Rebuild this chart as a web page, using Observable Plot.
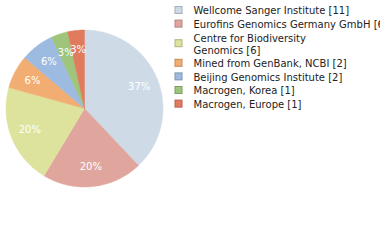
<!DOCTYPE html>
<html>
<head>
<meta charset="utf-8">
<script src="https://cdn.jsdelivr.net/npm/d3@7"></script>
<script src="https://cdn.jsdelivr.net/npm/@observablehq/plot@0.6"></script>
<style>
  html, body { margin: 0; padding: 0; background: #fff; }
  svg { display: block; }
</style>
</head>
<body>
<div id="chart"></div>
<script>
const names = [
  "Wellcome Sanger Institute",
  "Eurofins Genomics Germany GmbH",
  "Centre for Biodiversity Genomics",
  "Mined from GenBank, NCBI",
  "Beijing Genomics Institute",
  "Macrogen, Korea",
  "Macrogen, Europe"
];
const counts = [11, 6, 6, 2, 2, 1, 1];
const colors = ["#cedbe7", "#e0a69e", "#dde39d", "#f1ad72", "#9dbbe0", "#9ec57b", "#e07b5e"];
const borders = ["#a3afbb", "#b3837c", "#b1b67c", "#c18a5a", "#7c96b4", "#7e9e62", "#b3624a"];

const W = 380, H = 240;
const cx = 84, cy = 108, R = 78.5;
const total = d3.sum(counts);

const data = names.map((n, i) => ({name: n, count: counts[i], color: colors[i], border: borders[i], i}));
const arcs = d3.pie().value(d => d.count).sort(null)(data);

// slice polygons
const poly = [];
arcs.forEach(a => {
  const n = a.data.name;
  poly.push({name: n, x: cx, y: cy});
  const steps = Math.max(4, Math.ceil((a.endAngle - a.startAngle) / (Math.PI / 180)));
  for (let k = 0; k <= steps; k++) {
    const t = a.startAngle + (a.endAngle - a.startAngle) * k / steps;
    poly.push({name: n, x: cx + R * Math.sin(t), y: cy - R * Math.cos(t)});
  }
  poly.push({name: n, x: cx, y: cy});
});

const labels = arcs.map(a => {
  const m = (a.startAngle + a.endAngle) / 2;
  const rr = R * 0.75;
  return {x: cx + rr * Math.sin(m), y: cy - rr * Math.cos(m), text: Math.floor(a.data.count / total * 100) + "%"};
});

// legend rows (long names wrap after ~24 characters)
function wrap(name, count) {
  const s = name + " [" + count + "]";
  if (name.length <= 30) return [s];
  const words = s.split(" ");
  const lines = [];
  let cur = "";
  for (const w of words) {
    if ((cur + " " + w).trim().length > 24 && cur) { lines.push(cur); cur = w; }
    else cur = (cur + " " + w).trim();
  }
  lines.push(cur);
  return lines;
}
const rowGap = 13.6, lineH = 12;
let yy = 10;
const legend = data.map(d => {
  const lines = wrap(d.name, d.count);
  const h = (lines.length - 1) * lineH;
  const row = {...d, text: lines.join("\n"), sy: yy + h / 2};
  yy += rowGap + h;
  return row;
});

const plot = Plot.plot({
  width: W, height: H,
  margin: 0,
  x: {domain: [0, W], range: [0, W], axis: null},
  y: {domain: [0, H], range: [0, H], axis: null},
  color: {domain: names, range: colors},
  style: {fontFamily: "DejaVu Sans", background: "#fff"},
  marks: [
    Plot.line(poly, {x: "x", y: "y", z: "name", fill: "name", stroke: "name", strokeWidth: 0.5, curve: "linear"}),
    Plot.text(labels, {x: "x", y: "y", text: "text", fill: "white", fontSize: 10, fontFamily: "DejaVu Sans"}),
    Plot.rect(legend, {x1: d => 175, x2: d => 182, y1: d => d.sy - 3.5, y2: d => d.sy + 3.5, fill: "color", stroke: "border", strokeWidth: 1}),
    Plot.text(legend, {x: d => 193, y: "sy", text: "text", textAnchor: "start", lineAnchor: "middle", lineHeight: 1.2, fontSize: 10, fill: "#222", fontFamily: "DejaVu Sans"})
  ]
});
document.getElementById("chart").appendChild(plot);
</script>
</body>
</html>
